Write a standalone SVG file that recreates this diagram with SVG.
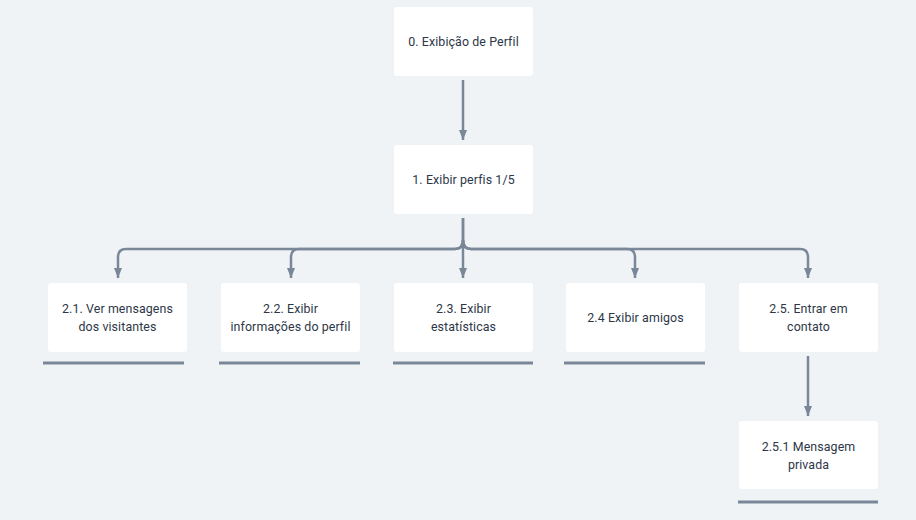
<svg xmlns="http://www.w3.org/2000/svg" width="916" height="520" viewBox="0 0 916 520">
<defs>
<style>
.node rect.box{fill:#ffffff;stroke:none}
.node text{font-family:"Roboto","Noto Sans",sans-serif;font-size:12.4px;letter-spacing:0.1px;fill:#2d3748;text-anchor:middle}
.ul{stroke:#7a8798;stroke-width:3}
.conn{fill:none;stroke:#7a8798;stroke-width:2.5}
</style>
<marker id="arr" viewBox="0 0 10 8" refX="10" refY="4" markerWidth="4" markerHeight="3.2" orient="auto" markerUnits="strokeWidth">
<path d="M0,0 L10,4 L0,8 Z" fill="#7a8798"/>
</marker>
</defs>
<rect width="916" height="520" fill="#f0f3f6"/>
<g id="connectors">
<path class="conn" d="M463,80 V140" marker-end="url(#arr)"/>
<path class="conn" d="M463,218 V240 Q463,249 455,249 H126 Q118,249 118,257 V278" marker-end="url(#arr)"/>
<path class="conn" d="M463,240 Q463,249 455,249 H299 Q291,249 291,257 V278" marker-end="url(#arr)"/>
<path class="conn" d="M463,218 V278" marker-end="url(#arr)"/>
<path class="conn" d="M463,240 Q463,249 471,249 H627 Q635,249 635,257 V278" marker-end="url(#arr)"/>
<path class="conn" d="M463,240 Q463,249 471,249 H800 Q808,249 808,257 V278" marker-end="url(#arr)"/>
<path class="conn" d="M808,356 V416" marker-end="url(#arr)"/>
</g>
<g id="n0" class="node">
<rect class="box" x="394" y="7" width="139" height="69" rx="3"/>
<text x="463.5" y="46">0. Exibição de Perfil</text>
</g>
<g id="n1" class="node">
<rect class="box" x="394" y="145" width="139" height="69" rx="3"/>
<text x="463.5" y="184">1. Exibir perfis 1/5</text>
</g>
<g id="n21" class="node">
<rect class="box" x="48" y="283" width="139" height="69" rx="3"/>
<text x="117.5" y="313">2.1. Ver mensagens</text>
<text x="117.5" y="331">dos visitantes</text>
<line class="ul" x1="43" y1="363" x2="184" y2="363"/>
</g>
<g id="n22" class="node">
<rect class="box" x="221" y="283" width="139" height="69" rx="3"/>
<text x="290.5" y="313">2.2. Exibir</text>
<text x="290.5" y="331">informações do perfil</text>
<line class="ul" x1="219" y1="363" x2="360" y2="363"/>
</g>
<g id="n23" class="node">
<rect class="box" x="394" y="283" width="139" height="69" rx="3"/>
<text x="463.5" y="313">2.3. Exibir</text>
<text x="463.5" y="331">estatísticas</text>
<line class="ul" x1="393" y1="363" x2="533" y2="363"/>
</g>
<g id="n24" class="node">
<rect class="box" x="566" y="283" width="139" height="69" rx="3"/>
<text x="635.5" y="322">2.4 Exibir amigos</text>
<line class="ul" x1="564" y1="363" x2="705" y2="363"/>
</g>
<g id="n25" class="node">
<rect class="box" x="739" y="283" width="139" height="69" rx="3"/>
<text x="808.5" y="313">2.5. Entrar em</text>
<text x="808.5" y="331">contato</text>
</g>
<g id="n251" class="node">
<rect class="box" x="739" y="421" width="139" height="68" rx="3"/>
<text x="808.5" y="451">2.5.1 Mensagem</text>
<text x="808.5" y="469">privada</text>
<line class="ul" x1="738" y1="502" x2="878" y2="502"/>
</g>
</svg>
